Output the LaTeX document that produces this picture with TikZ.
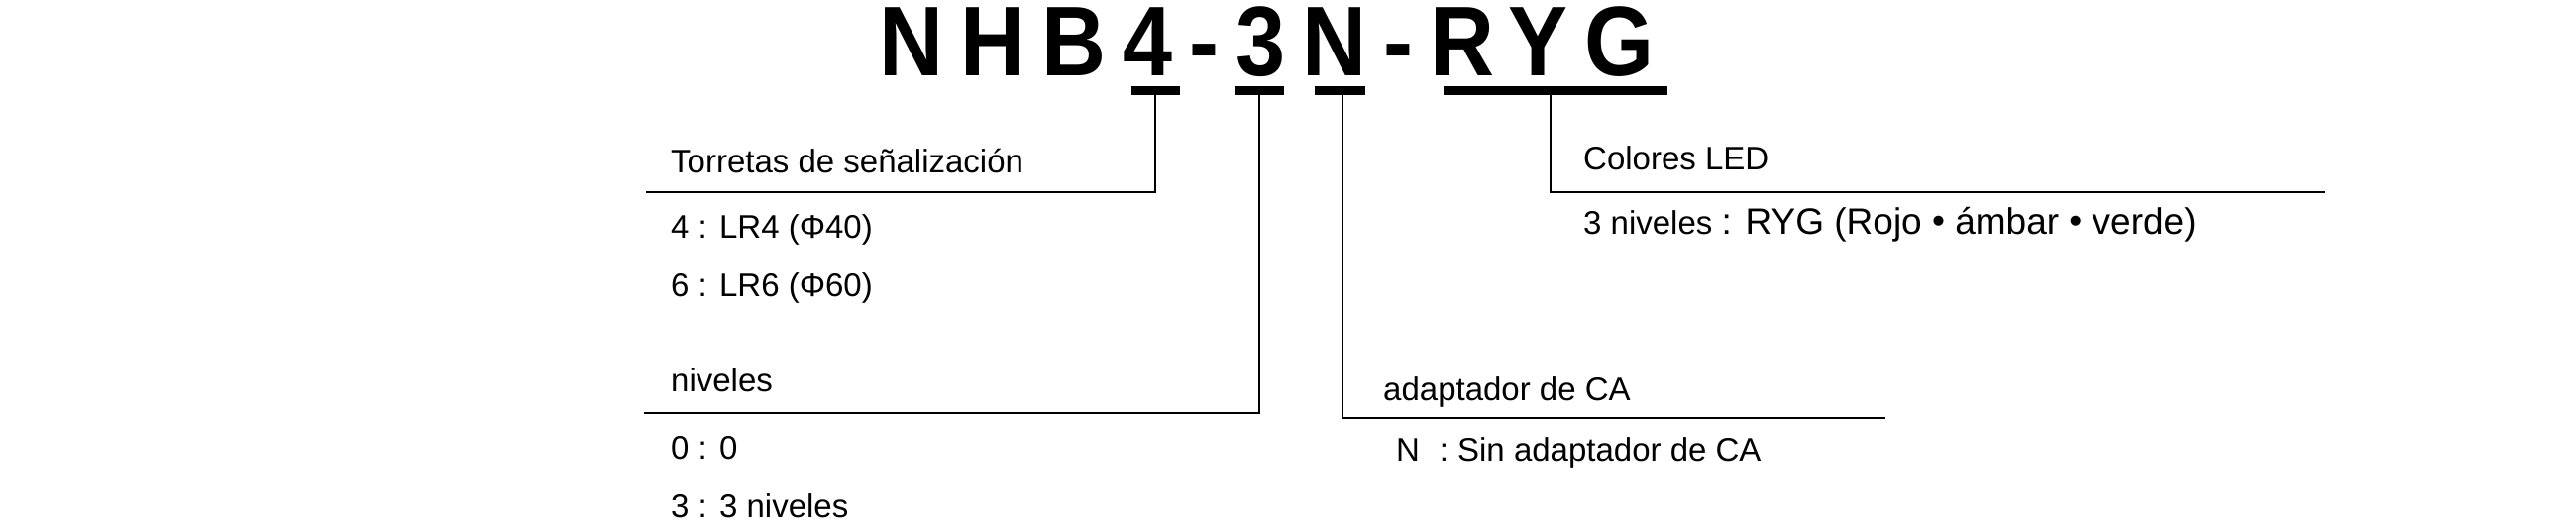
\documentclass[tikz,border=0pt]{standalone}
\usepackage{fontspec}
\setmainfont{Liberation Sans}
\begin{document}
\begin{tikzpicture}[x=1pt,y=-1pt,
  lbl/.style={anchor=base west,inner sep=0pt,font=\fontsize{33}{38}\selectfont},
  bar/.style={line width=9pt},
  lead/.style={line width=2.6pt}]
\useasboundingbox (0,0) rectangle (2600,530);
\node[anchor=base west,inner sep=0pt,xscale=0.9,font=\fontsize{100}{110}\bfseries\addfontfeature{LetterSpace=19}] (title) at (887,76) {NHB4-3N-RYG};
% bars
\draw[bar] (1142,91.5) coordinate (b1a) -- (1191,91.5) coordinate (b1b);
\draw[bar] (1247,91.5) coordinate (b2a) -- (1296,91.5) coordinate (b2b);
\draw[bar] (1327,91.5) coordinate (b3a) -- (1378,91.5) coordinate (b3b);
\draw[bar] (1457,91.5) coordinate (b4a) -- (1683,91.5) coordinate (b4b);
% leads
\coordinate (c1) at (1166,96); \coordinate (e1) at (652,194);
\coordinate (c2) at (1271,96); \coordinate (e2) at (650,417);
\coordinate (c3) at (1355,96); \coordinate (e3) at (1903,422);
\coordinate (c4) at (1565,96); \coordinate (e4) at (2347,194);
\draw[lead] (c1) |- (e1);
\draw[lead] (c2) |- (e2);
\draw[lead] (c3) |- (e3);
\draw[lead] (c4) |- (e4);
% labels
\node[lbl] (t1) at (677,174) {Torretas de señalización};
\node[lbl] (t1a) at (677,240) {4 : LR4 (Φ40)};
\node[lbl] (t1b) at (677,299) {6 : LR6 (Φ60)};
\node[lbl] (t2) at (677,395) {niveles};
\node[lbl] (t2a) at (677,463) {0 : 0};
\node[lbl] (t2b) at (677,522) {3 : 3 niveles};
\node[lbl] (t3) at (1396,404) {adaptador de CA};
\node[lbl] (t3a) at (1409,465) {N\hspace{0.6em}: Sin adaptador de CA};
\node[lbl] (t4) at (1598,171) {Colores LED};
\node[lbl] (t4a) at (1598,236) {3 niveles {\fontsize{37}{42}\selectfont: RYG (Rojo \raisebox{1pt}{•} ámbar \raisebox{1pt}{•} verde)}};
\end{tikzpicture}
\end{document}
